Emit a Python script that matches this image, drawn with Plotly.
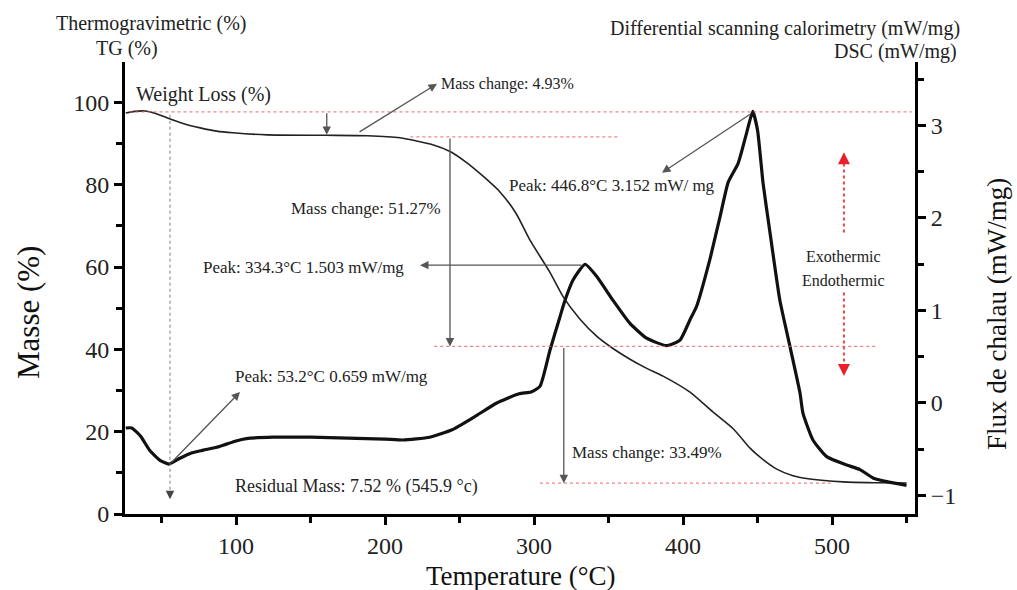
import plotly.graph_objects as go

# ---------------- data ----------------
temp_tg = [26, 32, 39, 46, 54, 65, 76, 87, 98, 121, 160, 188, 210, 232, 244, 255, 266, 277, 288, 297,
           310.7, 319.5, 330.9, 342, 353, 364.4, 375, 386.6, 404.7, 420, 434, 445, 451.7, 462.9, 473.8,
           485.2, 507.4, 528, 550]
mass_tg = [97.4, 97.8, 97.9, 97.3, 96.2, 94.8, 93.8, 93.0, 92.6, 92.1, 92.0, 91.9, 91.4, 89.7, 88.0, 85.3,
           82.0, 78.3, 73.0, 66.7, 58.7, 52.8, 47.3, 43.2, 40.2, 37.6, 35.5, 33.5, 29.6, 24.8, 20.6, 16.0,
           13.8, 10.9, 9.3, 8.5, 7.8, 7.6, 7.52]

temp_dsc = [26, 30, 36, 42, 49, 55, 62, 70, 78, 89, 100, 107, 125, 150, 175, 200, 212, 230, 245, 260,
            275, 290, 298, 304, 310.7, 317.4, 320.8, 326.2, 334.3, 342, 353, 364.4, 375.6, 389, 398, 404.7,
            409, 418, 424.8, 430.4, 437, 442.7, 446.8, 450, 453.7, 458.4, 465, 471.8, 478.5, 480.5, 487.2,
            496.4, 509.8, 518.8, 527.5, 536.7, 550]
dsc = [-0.27, -0.27, -0.36, -0.51, -0.62, -0.66, -0.60, -0.54, -0.51, -0.47, -0.41, -0.385, -0.37, -0.37,
       -0.38, -0.39, -0.40, -0.37, -0.29, -0.15, 0.0, 0.10, 0.12, 0.18, 0.57, 0.93, 1.11, 1.33, 1.50, 1.37,
       1.11, 0.86, 0.70, 0.62, 0.68, 0.9, 1.04, 1.55, 2.01, 2.39, 2.59, 2.92, 3.152, 2.95, 2.38, 1.84, 1.11,
       0.61, 0.11, -0.11, -0.40, -0.58, -0.67, -0.72, -0.81, -0.85, -0.89]

# reference (dotted red) levels: level %, T start, T end
ref_levels = [97.7, 91.6, 40.7, 7.5]
ref_start = [28.5, 217, 233, 304]
ref_end = [553.5, 358, 531, 499]

# vertical mass-change arrows: T, from %, to %
mc_temp = [160.9, 243.6, 320]
mc_from = [97.7, 91.6, 40.7]
mc_to = [92.1, 40.7, 7.5]

x_ticks = [100, 200, 300, 400, 500]
y_ticks = [0, 20, 40, 60, 80, 100]
y2_ticks = [-1, 0, 1, 2, 3]

FONT = "Liberation Serif"
fig = go.Figure()

fig.add_trace(go.Scatter(x=temp_tg, y=mass_tg, mode="lines",
                         line=dict(color="#222", width=1.6, shape="spline", smoothing=0.6),
                         showlegend=False, hoverinfo="skip"))
fig.add_trace(go.Scatter(x=temp_dsc, y=dsc, yaxis="y2", mode="lines",
                         line=dict(color="#111", width=3.2, shape="spline", smoothing=0.5),
                         showlegend=False, hoverinfo="skip"))

shapes = []
for lv, a, b in zip(ref_levels, ref_start, ref_end):
    shapes.append(dict(type="line", xref="x", yref="y", x0=a, x1=b, y0=lv, y1=lv,
                       line=dict(color="rgba(235,90,90,0.75)", width=1.2, dash="dot")))
shapes.append(dict(type="line", xref="x", yref="y", x0=55.7, x1=55.7, y0=97, y1=5,
                   line=dict(color="rgba(120,120,120,0.8)", width=1.2, dash="dot")))
shapes.append(dict(type="line", xref="x", yref="y", x0=508, x1=508, y0=68.4, y1=86,
                   line=dict(color="rgba(230,40,40,0.85)", width=2, dash="dot")))
shapes.append(dict(type="line", xref="x", yref="y", x0=508, x1=508, y0=53.8, y1=35.5,
                   line=dict(color="rgba(230,40,40,0.85)", width=2, dash="dot")))

ann = []
def arrow(x, y, ax, ay, yref="y", color="#555", width=1.3, head=2, size=1.3):
    ann.append(dict(x=x, y=y, ax=ax, ay=ay, xref="x", yref=yref, axref="x", ayref=yref,
                    showarrow=True, arrowhead=head, arrowsize=size, arrowwidth=width,
                    arrowcolor=color, text="", standoff=0, startstandoff=0))

for t, a, b in zip(mc_temp, mc_from, mc_to):
    arrow(t, b, t, a)
arrow(55.7, 3.6, 55.7, 5.5, color="#444", width=1.3)
arrow(508, 87.9, 508, 85.5, color="#e8202a", width=2, size=1.2)
arrow(508, 33.5, 508, 35.9, color="#e8202a", width=2, size=1.2)
arrow(234.9, 104.5, 181.9, 92.6)                 # Mass change 4.93
arrow(385.9, 2.49, 446.8, 3.14, yref="y2")        # Peak 446.8
arrow(223.5, 1.49, 332.9, 1.49, yref="y2")        # Peak 334.3
arrow(102.7, 0.12, 55.7, -0.66, yref="y2")        # Peak 53.2

def txt(x, y, s, size=17, xanchor="center", color="#222"):
    ann.append(dict(x=x, y=y, xref="x", yref="y", text=s, showarrow=False, xanchor=xanchor,
                    yanchor="middle", font=dict(family=FONT, size=size, color=color)))

txt(78.5, 101.8, "Weight Loss (%)", size=20)
txt(236, 104.4, "Mass change: 4.93%", size=16, xanchor="left")
txt(239, 74.2, "Mass change: 51.27%", size=17, xanchor="right")
txt(282, 79.8, "Peak: 446.8°C 3.152 mW/ mg", size=17, xanchor="left")
txt(214, 59.9, "Peak: 334.3°C 1.503 mW/mg", size=17, xanchor="right")
txt(507.4, 62.5, "Exothermic", size=16)
txt(507.4, 56.7, "Endothermic", size=16)
txt(98, 33.5, "Peak: 53.2°C 0.659 mW/mg", size=17, xanchor="left")
txt(324, 15.0, "Mass change: 33.49%", size=17, xanchor="left")
txt(98, 6.8, "Residual Mass: 7.52 % (545.9 °c)", size=18, xanchor="left")

def ptxt(x, y, s, size, angle=0, color="#222"):
    ann.append(dict(x=x, y=y, xref="paper", yref="paper", text=s, showarrow=False, textangle=angle,
                    xanchor="center", yanchor="middle", font=dict(family=FONT, size=size, color=color)))

ptxt(0.0329, 1.0841, "Thermogravimetric (%)", 20)
ptxt(0.0025, 1.0288, "TG (%)", 20)
ptxt(0.8354, 1.0752, "Differential scanning calorimetry (mW/mg)", 20)
ptxt(0.9747, 1.0243, "DSC (mW/mg)", 20)
ptxt(-0.1215, 0.4447, "Masse (%)", 31, angle=-90, color="#111")
ptxt(1.1038, 0.4425, "Flux de chalau (mW/mg)", 27, angle=-90, color="#111")
ptxt(0.5013, -0.1372, "Temperature (°C)", 27, color="#111")

axis_common = dict(showline=True, linecolor="black", linewidth=3, ticks="outside", ticklen=8,
                   tickwidth=2.5, tickcolor="black", showgrid=False, zeroline=False)

fig.update_layout(
    width=1017, height=590,
    margin=dict(l=125, r=102, t=62, b=76),
    plot_bgcolor="white", paper_bgcolor="white",
    font=dict(family=FONT, color="#222"),
    xaxis=dict(range=[25.5, 555.7], tickvals=x_ticks,
               tickfont=dict(family=FONT, size=24, color="#222"),
               minor=dict(tickvals=[50, 150, 250, 350, 450, 550], ticks="outside", ticklen=6,
                          tickwidth=2.5, tickcolor="black"),
               **axis_common),
    yaxis=dict(range=[0, 109.8], tickvals=y_ticks,
               tickfont=dict(family=FONT, size=24, color="#222"),
               minor=dict(tickvals=[10, 30, 50, 70, 90], ticks="outside", ticklen=6,
                          tickwidth=2.5, tickcolor="black"),
               **axis_common),
    yaxis2=dict(range=[-1.2, 3.686], tickvals=y2_ticks, overlaying="y", side="right",
                tickfont=dict(family=FONT, size=24, color="#222"),
                minor=dict(tickvals=[-0.5, 0.5, 1.5, 2.5, 3.5], ticks="outside", ticklen=6,
                           tickwidth=2.5, tickcolor="black"),
                **axis_common),
    shapes=shapes, annotations=ann,
)

fig.write_html("out.html", config={"displayModeBar": False},
               post_script="document.body.style.margin='0px';")
